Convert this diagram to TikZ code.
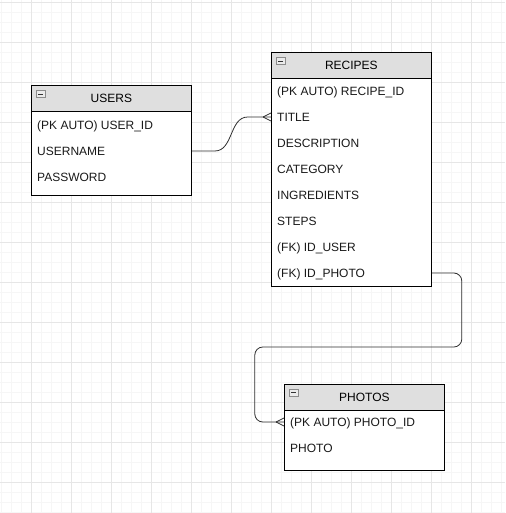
\documentclass[tikz,border=0pt]{standalone}
\usepackage{fontspec}
\setmainfont{Liberation Sans}
\usetikzlibrary{positioning}

\definecolor{headgray}{HTML}{DFDFDF}
\definecolor{gridmajor}{HTML}{E6E6E6}
\definecolor{gridminor}{HTML}{F6F6F6}
\definecolor{linkgray}{HTML}{2E2E2E}

% crow's foot at the table edge
\newcommand{\crowfoot}[2]{%
  \draw[link] ([xshift=-#2]#1) -- ([yshift=4pt]#1);
  \draw[link] ([xshift=-#2]#1) -- ([yshift=-4pt]#1);
}

\tikzset{
  tablehead/.style={draw=black, fill=headgray, anchor=north west, minimum width=160pt,
    minimum height=26.5pt, inner sep=0pt, font=\fontsize{12}{14}\selectfont, line width=0.8pt},
  tablebody/.style={draw=black, fill=white, anchor=north west, minimum width=160pt,
    inner sep=0pt, line width=0.8pt},
  field/.style={anchor=west, inner sep=0pt, text height=9pt, text depth=0.5pt,
    font=\fontsize{12}{14}\selectfont, text=black!90},
  foldicon/.style={draw=black!45, fill=black!8, anchor=north west, minimum width=8.5pt,
    minimum height=7.5pt, inner sep=0pt, line width=0.6pt,
    path picture={\draw[black!80, line width=0.9pt]
      ([xshift=2pt]path picture bounding box.west) -- ([xshift=-2pt]path picture bounding box.east);}},
  link/.style={draw=linkgray, line width=0.8pt},
}

\begin{document}
\begin{tikzpicture}[x=1pt, y=-1pt]
  \useasboundingbox (0,0) rectangle (505,513);

  % background grid
  \foreach \x in {1,11,...,501}
    \draw[gridminor, line width=0.6pt] (\x,0) -- (\x,513);
  \foreach \y in {2,12,...,512}
    \draw[gridminor, line width=0.6pt] (0,\y) -- (505,\y);
  \foreach \x in {31,71,...,471}
    \draw[gridmajor, line width=0.8pt] (\x,0) -- (\x,513);
  \foreach \y in {2,42,...,482}
    \draw[gridmajor, line width=0.8pt] (0,\y) -- (505,\y);

  % USERS
  \node[tablebody, minimum height=83.5pt] (usersbox) at (31,111.5) {};
  \node[tablehead] (users) at (31,85) {USERS};
  \node[foldicon, below right=5pt and 5pt of users.north west] (usersfold) {};
  \node[field] (userid) at (37,125) {(PK AUTO) USER\_ID};
  \node[field] (username) at (37,151) {USERNAME};
  \node[field] (password) at (37,177) {PASSWORD};

  % RECIPES
  \node[tablebody, minimum height=208pt] (recipesbox) at (271,78) {};
  \node[tablehead] (recipes) at (271,52) {RECIPES};
  \node[foldicon, below right=5pt and 5pt of recipes.north west] (recipesfold) {};
  \node[field] (recipeid) at (277,91) {(PK AUTO) RECIPE\_ID};
  \node[field] (title) at (277,117) {TITLE};
  \node[field] (description) at (277,143) {DESCRIPTION};
  \node[field] (category) at (277,169) {CATEGORY};
  \node[field] (ingredients) at (277,195) {INGREDIENTS};
  \node[field] (steps) at (277,221) {STEPS};
  \node[field] (iduser) at (277,247) {(FK) ID\_USER};
  \node[field] (idphoto) at (277,273) {(FK) ID\_PHOTO};

  % PHOTOS
  \node[tablebody, minimum height=60.5pt] (photosbox) at (284,409.5) {};
  \node[tablehead] (photos) at (284,383.5) {PHOTOS};
  \node[foldicon, below right=5pt and 5pt of photos.north west] (photosfold) {};
  \node[field] (photoid) at (290,422) {(PK AUTO) PHOTO\_ID};
  \node[field] (photo) at (290,448) {PHOTO};

  % relations
  \coordinate (userlink) at (usersbox.east |- username.west);
  \coordinate (titlelink) at (recipesbox.west |- title.west);
  \coordinate (photolink) at (recipesbox.east |- idphoto.west);
  \coordinate (photoidlink) at (photosbox.west |- photoid.west);

  \draw[link] (userlink) -- ++(23,0) to[out=0, in=180] ++(33,-34) -- (titlelink);
  \crowfoot{titlelink}{8pt}

  \draw[link, rounded corners=8pt] (photolink) -- ++(30,0) -- ++(0,74) -- ++(-207,0)
    -- ++(0,75) -- (photoidlink);
  \crowfoot{photoidlink}{8pt}
\end{tikzpicture}
\end{document}
